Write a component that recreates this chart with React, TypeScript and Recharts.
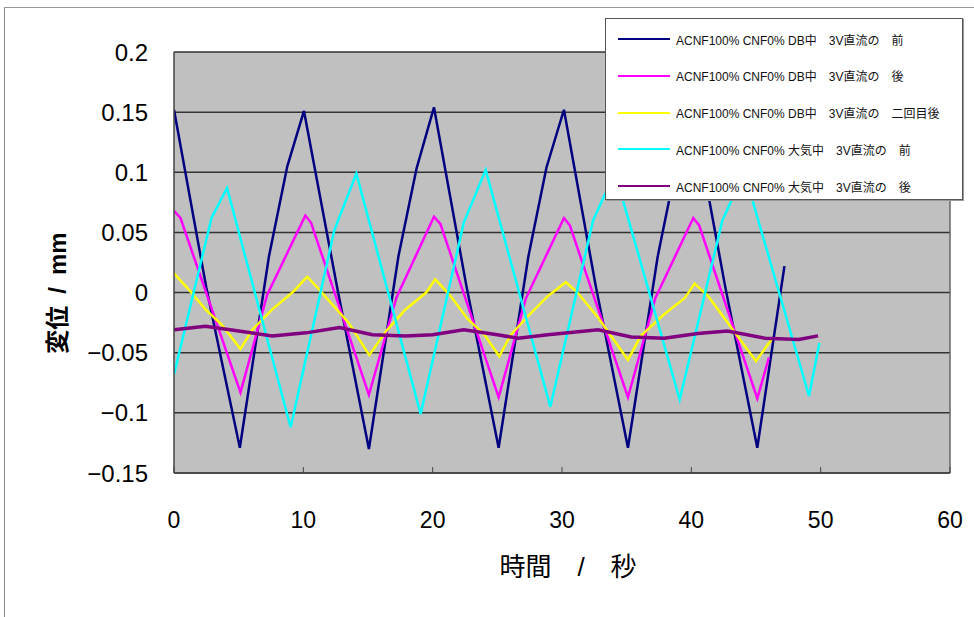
import React from "react";
import {
  LineChart,
  Line,
  XAxis,
  YAxis,
  CartesianGrid,
  Legend,
  ReferenceLine,
  Label,
} from "recharts";

// ---- data (time in s, displacement in mm) ----
const navyT = [0, 2.5, 5.09, 7.34, 8.76, 10.05, 12.6, 15.07, 17.35, 18.75, 20.1, 22.6, 25.1, 27.4, 28.8, 30.15, 32.6, 35.1, 37.4, 38.8, 40.1, 42.6, 45.1, 47.2];
const navyV = [0.152, 0.004, -0.129, 0.03, 0.105, 0.151, 0.005, -0.13, 0.03, 0.103, 0.154, 0.006, -0.129, 0.03, 0.104, 0.152, 0.006, -0.129, 0.03, 0.104, 0.152, 0.006, -0.129, 0.022];

const magentaT = [0, 0.5, 5.14, 7.2, 10.15, 10.6, 15.07, 17.2, 20.1, 20.6, 25.1, 27.2, 30.15, 30.6, 35.1, 37.2, 40.15, 40.6, 45.1, 46.0];
const magentaV = [0.068, 0.062, -0.083, -0.002, 0.064, 0.058, -0.085, -0.004, 0.063, 0.057, -0.087, -0.005, 0.062, 0.056, -0.087, -0.005, 0.062, 0.056, -0.088, -0.054];

const yellowT = [0, 1.14, 2.43, 3.72, 5.14, 6.05, 7.6, 9.15, 10.3, 11.1, 12.25, 13.5, 15.1, 16.4, 17.9, 19.5, 20.2, 21.4, 22.7, 24.0, 25.15, 26.05, 27.6, 28.9, 30.3, 31.2, 32.8, 35.1, 36.1, 37.9, 39.5, 40.25, 41.3, 42.6, 45.0, 46.2];
const yellowV = [0.016, 0.0025, -0.014, -0.027, -0.047, -0.031, -0.014, 0.0, 0.013, 0.004, -0.01, -0.025, -0.052, -0.032, -0.014, 0.0, 0.011, -0.003, -0.022, -0.035, -0.053, -0.035, -0.017, -0.003, 0.0086, 0.0, -0.021, -0.056, -0.036, -0.018, -0.0045, 0.0075, -0.003, -0.022, -0.057, -0.039];

const cyanT = [0, 2.9, 4.1, 9.02, 12.4, 14.1, 19.07, 22.4, 24.1, 29.1, 32.4, 34.1, 39.1, 42.4, 44.1, 49.1, 49.9];
const cyanV = [-0.068, 0.062, 0.087, -0.112, 0.052, 0.099, -0.101, 0.058, 0.102, -0.095, 0.06, 0.1, -0.089, 0.06, 0.1, -0.086, -0.042];

const purpleT = [0, 2.43, 5.0, 7.6, 10.2, 12.8, 15.35, 17.9, 20.0, 22.4, 25.0, 26.6, 28.9, 32.8, 35.35, 37.9, 40.5, 42.8, 45.7, 48.3, 49.8];
const purpleV = [-0.031, -0.028, -0.032, -0.036, -0.0335, -0.029, -0.035, -0.036, -0.035, -0.031, -0.035, -0.038, -0.035, -0.031, -0.037, -0.038, -0.034, -0.032, -0.038, -0.039, -0.036];

const seriesNames = [
  "ACNF100% CNF0% DB中　3V直流の　前",
  "ACNF100% CNF0% DB中　3V直流の　後",
  "ACNF100% CNF0% DB中　3V直流の　二回目後",
  "ACNF100% CNF0% 大気中　3V直流の　前",
  "ACNF100% CNF0% 大気中　3V直流の　後",
];
const seriesColors = ["#000080", "#FF00FF", "#FFFF00", "#00FFFF", "#800080"];

const xTicks = [0, 10, 20, 30, 40, 50, 60];
const yTicks = [-0.15, -0.1, -0.05, 0, 0.05, 0.1, 0.15, 0.2];

const xTitle = "時間\u3000/\u3000秒";
const yTitle = "変位\u2002/\u2002mm";

const zip = (ts: number[], vs: number[]) => ts.map((t, i) => ({ t, v: vs[i] }));

const seriesData = [
  zip(navyT, navyV),
  zip(magentaT, magentaV),
  zip(yellowT, yellowV),
  zip(cyanT, cyanV),
  zip(purpleT, purpleV),
];

const FONT = "'Liberation Sans', Arial, 'Noto Sans CJK JP', sans-serif";

const fmtY = (v: number) => {
  const s = String(Math.round(v * 1000) / 1000);
  return s.replace("-", "\u2212");
};

const LegendBox = (props: any) => {
  const payload = [...(props.payload || [])].sort(
    (a: any, b: any) => seriesNames.indexOf(a.value) - seriesNames.indexOf(b.value)
  );
  return (
    <div
      style={{
        position: "relative",
        width: 358,
        height: 182,
        background: "#fff",
        border: "1.5px solid #555",
        boxShadow: "1px 1px 0 #999",
        boxSizing: "border-box",
        fontFamily: FONT,
      }}
    >
      {payload.map((p: any, i: number) => (
        <div
          key={i}
          style={{
            position: "absolute",
            left: 0,
            top: 20 + i * 36.8 - 9,
            height: 18,
            display: "flex",
            alignItems: "center",
          }}
        >
          <div
            style={{
              marginLeft: 12,
              width: 52,
              height: 2,
              background: p.color,
            }}
          />
          <span style={{ marginLeft: 6, fontSize: 12, color: "#111", whiteSpace: "pre" }}>
            {p.value}
          </span>
        </div>
      ))}
    </div>
  );
};

export default function App() {
  return (
    <div
      style={{
        position: "absolute",
        left: 0,
        top: 0,
        width: 974,
        height: 617,
        background: "#fff",
        overflow: "hidden",
        fontFamily: FONT,
      }}
    >
      <div
        style={{
          position: "absolute",
          left: 4,
          top: 7,
          width: 1000,
          height: 700,
          borderLeft: "1px solid #888",
          borderTop: "1px solid #999",
        }}
      />
      <div style={{ position: "absolute", left: 0, top: 0 }}>
        <LineChart
          width={974}
          height={617}
          margin={{ top: 52, right: 24, bottom: 84, left: 74 }}
        >
          <CartesianGrid
            vertical={false}
            horizontal={true}
            fill="#C0C0C0"
            stroke="#333"
            strokeWidth={1.5}
          />
          <XAxis
            type="number"
            dataKey="t"
            domain={[0, 60]}
            ticks={xTicks}
            height={60}
            allowDataOverflow
            axisLine={{ stroke: "#444", strokeWidth: 1.5 }}
            tickLine={{ stroke: "#444" }}
            tickSize={-6}
            tickMargin={45}
            tick={{ fill: "#000", fontSize: 23, fontFamily: FONT }}
          >
            <Label
              content={() => (
                <text
                  x={568}
                  y={567}
                  textAnchor="middle"
                  dominantBaseline="central"
                  fontSize={26}
                  fontFamily={FONT}
                  fill="#000"
                >
                  {xTitle}
                </text>
              )}
            />
          </XAxis>
          <YAxis
            type="number"
            domain={[-0.15, 0.2]}
            ticks={yTicks}
            width={100}
            allowDataOverflow
            axisLine={{ stroke: "#444", strokeWidth: 1.5 }}
            tickLine={false}
            tickSize={0}
            tickMargin={26}
            tickFormatter={fmtY}
            tick={{ fill: "#000", fontSize: 24, fontFamily: FONT }}
          >
            <Label
              content={() => (
                <text
                  x={57}
                  y={293}
                  textAnchor="middle"
                  dominantBaseline="central"
                  fontSize={24}
                  fontWeight="bold"
                  fontFamily={FONT}
                  fill="#000"
                  transform="rotate(-90 57 293)"
                >
                  {yTitle}
                </text>
              )}
            />
          </YAxis>
          <ReferenceLine x={60} stroke="#666" strokeWidth={1.5} />
          {seriesData.map((d, i) => (
            <Line
              key={i}
              data={d}
              dataKey="v"
              name={seriesNames[i]}
              type="linear"
              stroke={seriesColors[i]}
              strokeWidth={i === 4 ? 3.5 : 2.5}
              dot={false}
              activeDot={false}
              isAnimationActive={false}
            />
          ))}
          <Legend
            layout="vertical"
            align="center"
            verticalAlign="middle"
            content={<LegendBox />}
            wrapperStyle={{ left: 605, top: 18, width: 358, height: 182 }}
          />
        </LineChart>
      </div>
    </div>
  );
}
